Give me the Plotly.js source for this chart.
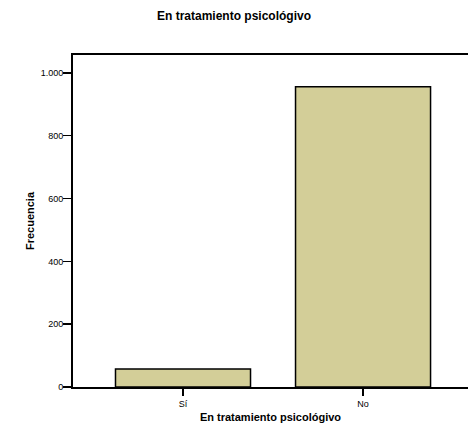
<!DOCTYPE html>
<html><head><meta charset="utf-8">
<script src="https://cdn.plot.ly/plotly-3.0.1.min.js"></script>
<style>html,body{margin:0;padding:0;background:#fff;}#chart{width:468px;height:425px;}</style>
</head><body><div id="chart"></div>
<script>
const categories = ["Sí", "No"];
const frecuencia = [57, 956];
const yTicks = [0, 200, 400, 600, 800, 1000];
const yTickLabels = ["0", "200", "400", "600", "800", "1.000"];

const trace = {
  type: "bar",
  x: categories,
  y: frecuencia,
  width: 0.75,
  marker: {color: "#D3CE98", line: {color: "#000", width: 1.5}},
  hoverinfo: "none"
};

const layout = {
  width: 468, height: 425,
  margin: {l: 73, r: 0, t: 55, b: 38},
  paper_bgcolor: "#fff", plot_bgcolor: "#fff",
  font: {family: "Arial, 'Liberation Sans', sans-serif", color: "#000", size: 9},
  title: {text: "<b>En tratamiento psicológivo</b>", font: {size: 12}, x: 0.5, xanchor: "center", y: 0.962, yanchor: "middle"},
  showlegend: false,
  xaxis: {
    type: "category",
    range: [-0.611, 1.583],
    showline: true, linecolor: "#000", linewidth: 2, mirror: true,
    ticks: "outside", ticklen: 7, tickwidth: 1.5, tickcolor: "#000",
    showgrid: false, zeroline: false,
    tickfont: {size: 9},
    title: {text: "<b>En tratamiento psicológivo</b>", font: {size: 11}, standoff: 6}
  },
  yaxis: {
    range: [0, 1057],
    tickvals: yTicks, ticktext: yTickLabels,
    showline: true, linecolor: "#000", linewidth: 2, mirror: false,
    ticks: "outside", ticklen: 8, tickwidth: 1.5, tickcolor: "#000",
    showgrid: false, zeroline: false,
    tickfont: {size: 9},
    ticklabelstandoff: -2,
    title: {text: "<b>Frecuencia</b>", font: {size: 11}, standoff: 4}
  }
};

Plotly.newPlot("chart", [trace], layout, {displayModeBar: false, staticPlot: true});
</script></body></html>
